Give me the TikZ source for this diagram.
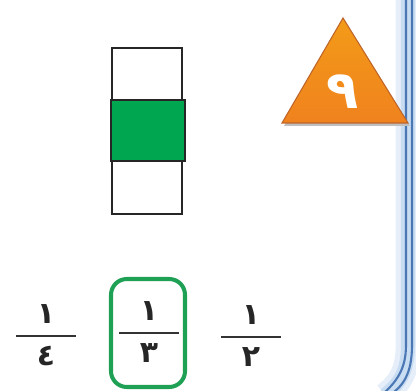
\documentclass[tikz,border=0pt]{standalone}
\usepackage{fontspec}
\newfontfamily\arabicfont[Script=Arabic]{DejaVu Sans}
\usepackage{tikz}
\usetikzlibrary{positioning,calc,shapes.geometric}
\usepackage{xcolor}
\definecolor{barGreen}{RGB}{0,166,80}
\definecolor{boxGreen}{RGB}{30,160,85}
\definecolor{frameBlue}{RGB}{75,120,180}
\definecolor{glowBlue}{RGB}{200,220,242}
\definecolor{triOrange}{RGB}{240,130,30}
\definecolor{triEdge}{RGB}{190,100,40}

\tikzset{
  digit/.style={font=\arabicfont\bfseries\fontsize{17}{20}\selectfont, inner sep=0pt, black!85},
  fracbar/.style={line width=1.6pt, black!80},
  cell/.style={line width=1.1pt, black!85},
}

\begin{document}
\begin{tikzpicture}[x=0.02cm, y=-0.02cm]
    \useasboundingbox (0,0) rectangle (416,391);

    % 右侧蓝色边框
    \coordinate (F0) at (408,0);
    \draw[glowBlue!45, line width=14pt] (F0) -- (408,345) .. controls (408,372) and (399,384) .. (385,395);
    \draw[glowBlue, line width=8pt] (F0) -- (408,345) .. controls (408,372) and (399,384) .. (385,395);
    \draw[frameBlue, line width=1.2pt] (406,0) -- (406,345) .. controls (406,370) and (396,382) .. (382,395);
    \draw[frameBlue, line width=1.2pt] (412,0) -- (412,345) .. controls (412,374) and (403,386) .. (390,395);

    % 三角形
    \coordinate (TA) at (343,18);
    \coordinate (TL) at (282,123);
    \coordinate (TR) at (408,123);
    \fill[black!25] ($(TL)+(2,3)$) -- ($(TA)+(2,3)$) -- ($(TR)+(2,3)$) -- cycle;
    \shade[top color=triOrange!80!yellow, bottom color=triOrange, draw=triEdge, line width=0.6pt]
        (TL) -- (TA) -- (TR) -- cycle;
    \node[digit, white, font=\arabicfont\bfseries\fontsize{30}{32}\selectfont] (nine) at (343,92) {٩};

    % 长方形 (三格)
    \draw[cell] (112,48) rectangle (182,214);
    \filldraw[cell, fill=barGreen] (111,100) rectangle (185,161);

    % 分数
    \foreach \x/\y/\d/\n in {46/336/٤/a, 149/333/٣/b, 251/337/٢/c} {
        \coordinate (L\n) at (\x-30,\y);
        \coordinate (R\n) at (\x+30,\y);
        \draw[fracbar] (L\n) -- (R\n);
        \node[digit] (num\n) at (\x,\y-22) {١};
        \node[digit] (den\n) at (\x,\y+20) {\d};
    }

    % 正确答案
    \draw[boxGreen, line width=2.3pt, rounded corners=9pt] (111,279) rectangle (185,387);
\end{tikzpicture}
\end{document}
